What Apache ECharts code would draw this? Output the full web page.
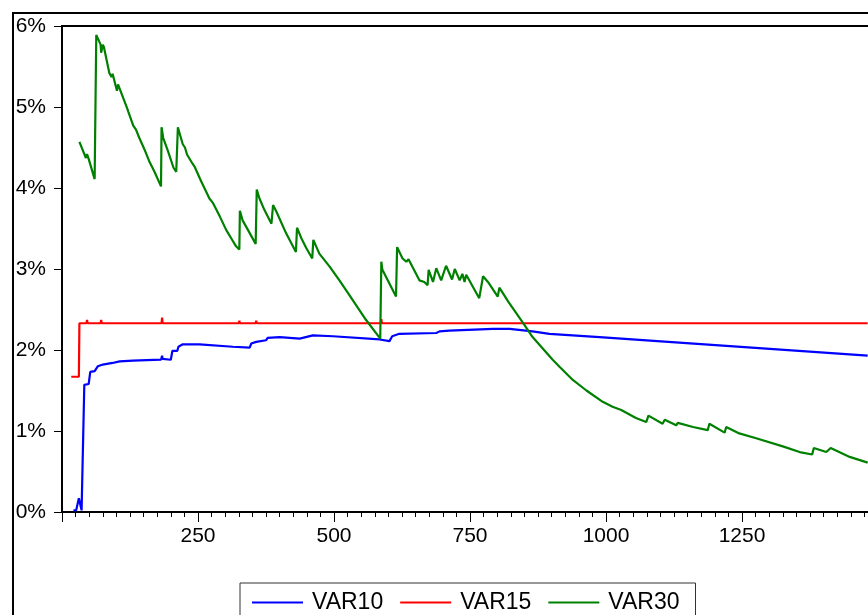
<!DOCTYPE html>
<html>
<head>
<meta charset="utf-8">
<script src="https://cdn.jsdelivr.net/npm/echarts@6/dist/echarts.min.js"></script>
<style>
  html, body { margin: 0; padding: 0; background: #fff; }
  #frame { position: absolute; left: 12px; top: 12px; width: 900px; height: 700px;
           border-left: 2px solid #000; border-top: 2px solid #000; }
  #chart { position: absolute; left: 0; top: 0; width: 868px; height: 615px; }
</style>
</head>
<body>
<div id="frame"></div>
<div id="chart"></div>
<script>
// observation, percent
var var10 = [
  [21, 0.02], [26, 0.02], [29, 0.04], [31, 0.17], [33, 0.15], [36, 0.02], [38, 0.02],
  [41, 1.57], [49, 1.58], [52, 1.73], [60, 1.74], [66, 1.80], [75, 1.82], [93, 1.84],
  [106, 1.86], [130, 1.87], [182, 1.88], [184, 1.93], [185, 1.89], [200, 1.88],
  [203, 1.99], [212, 1.99], [214, 2.04], [222, 2.07], [253, 2.07], [314, 2.04],
  [345, 2.03], [348, 2.08], [357, 2.10], [375, 2.12], [378, 2.15], [400, 2.16],
  [437, 2.14], [461, 2.18], [498, 2.17], [584, 2.13], [602, 2.11], [607, 2.17],
  [620, 2.20], [688, 2.21], [694, 2.23], [712, 2.24], [792, 2.26], [823, 2.26],
  [865, 2.23], [896, 2.20], [988, 2.16], [1481, 1.93]
];

var var15 = [
  [17, 1.67], [31, 1.67], [32, 2.33], [45, 2.33], [46, 2.37], [47, 2.33],
  [71, 2.33], [72, 2.37], [73, 2.33], [183, 2.33], [184, 2.40], [185, 2.33],
  [325, 2.33], [326, 2.36], [327, 2.33], [356, 2.33], [357, 2.36], [358, 2.33],
  [586, 2.33], [587, 2.38], [588, 2.33], [1481, 2.33]
];

var var30 = [
  [32, 4.57], [44, 4.37], [46, 4.42], [49, 4.36], [60, 4.11], [63, 5.89], [71, 5.77],
  [72, 5.67], [75, 5.77], [77, 5.74], [87, 5.42], [91, 5.37], [93, 5.41], [101, 5.20],
  [103, 5.28], [106, 5.27], [120, 4.98], [122, 4.94], [131, 4.77], [136, 4.72],
  [142, 4.62], [152, 4.47], [161, 4.32], [170, 4.20], [182, 4.02], [183, 4.75],
  [186, 4.62], [194, 4.47], [205, 4.25], [210, 4.20], [213, 4.75], [222, 4.54],
  [226, 4.50], [230, 4.41], [240, 4.30], [244, 4.26], [256, 4.08], [259, 4.06],
  [271, 3.87], [277, 3.82], [290, 3.65], [302, 3.48], [311, 3.38], [320, 3.28],
  [326, 3.24], [327, 3.72], [332, 3.60], [342, 3.48], [356, 3.31], [358, 3.98],
  [363, 3.87], [372, 3.73], [385, 3.56], [388, 3.79], [394, 3.71], [412, 3.44],
  [430, 3.21], [432, 3.51], [440, 3.38], [449, 3.26], [460, 3.13], [462, 3.36],
  [473, 3.19], [492, 3.03], [510, 2.86], [528, 2.68], [559, 2.37], [585, 2.14],
  [587, 3.09], [589, 2.99], [614, 2.66], [616, 3.27], [626, 3.13], [633, 3.09],
  [637, 3.12], [657, 2.86], [666, 2.84], [672, 2.80], [674, 2.99], [682, 2.84],
  [688, 3.01], [697, 2.86], [706, 3.04], [717, 2.87], [722, 3.00], [731, 2.86],
  [736, 2.94], [740, 2.84], [743, 2.93], [767, 2.64], [774, 2.91], [783, 2.84],
  [801, 2.66], [804, 2.77], [820, 2.60], [850, 2.31], [865, 2.16], [902, 1.88],
  [915, 1.79], [939, 1.63], [964, 1.50], [994, 1.36], [1012, 1.30], [1028, 1.26],
  [1055, 1.16], [1074, 1.11], [1078, 1.19], [1104, 1.09], [1108, 1.14], [1129, 1.07],
  [1132, 1.10], [1160, 1.05], [1187, 1.01], [1190, 1.09], [1218, 0.98], [1221, 1.05],
  [1245, 0.97], [1276, 0.91], [1325, 0.81], [1356, 0.74], [1379, 0.71], [1382, 0.79],
  [1405, 0.74], [1413, 0.79], [1448, 0.68], [1481, 0.61]
];

var seriesNames = ["VAR10", "VAR15", "VAR30"];
var seriesColors = ["#0000ff", "#ff0000", "#008000"];

var chart = echarts.init(document.getElementById("chart"), null, { renderer: "canvas" });

var fontName = "Liberation Sans, Arial, sans-serif";

var option = {
  animation: false,
  grid: {
    left: 62, top: 26, right: -10, bottom: 103,
    outerBoundsMode: "none",
    containLabel: false,
    show: true, borderColor: "#000", borderWidth: 2, backgroundColor: "transparent"
  },
  legend: {
    data: seriesNames,
    left: 240, top: 583,
    icon: "rect",
    itemWidth: 51, itemHeight: 2,
    itemGap: 17,
    borderColor: "#333", borderWidth: 1,
    padding: [8, 16, 30, 12],
    textStyle: { fontFamily: fontName, fontSize: 23, color: "#000", padding: [0, 0, 0, 4] }
  },
  xAxis: {
    type: "value",
    min: 0, max: 1500, interval: 250,
    axisLine: { lineStyle: { color: "#000", width: 2 } },
    axisTick: { show: true, length: 10, lineStyle: { color: "#000", width: 1 } },
    minorTick: { show: true, splitNumber: 10, length: 5, lineStyle: { color: "#000", width: 1 } },
    splitLine: { show: false },
    minorSplitLine: { show: false },
    axisLabel: {
      margin: 14, fontFamily: fontName, fontSize: 21, color: "#000",
      formatter: function (v) { return (v > 0 && v < 1500 && v % 250 === 0) ? String(v) : ""; }
    }
  },
  yAxis: {
    type: "value",
    min: 0, max: 6, interval: 1,
    axisLine: { show: true, lineStyle: { color: "#000", width: 2 } },
    axisTick: { show: true, length: 8, lineStyle: { color: "#000", width: 1 } },
    splitLine: { show: false },
    axisLabel: {
      margin: 16, fontFamily: fontName, fontSize: 21, color: "#000",
      formatter: "{value}%"
    }
  },
  series: [
    { name: "VAR10", type: "line", data: var10, showSymbol: false, symbol: "none",
      lineStyle: { color: seriesColors[0], width: 2.2 }, itemStyle: { color: seriesColors[0] }, z: 3 },
    { name: "VAR15", type: "line", data: var15, showSymbol: false, symbol: "none",
      lineStyle: { color: seriesColors[1], width: 2.2 }, itemStyle: { color: seriesColors[1] }, z: 2 },
    { name: "VAR30", type: "line", data: var30, showSymbol: false, symbol: "none",
      lineStyle: { color: seriesColors[2], width: 2.2 }, itemStyle: { color: seriesColors[2] }, z: 4 }
  ]
};

chart.setOption(option);
</script>
</body>
</html>
